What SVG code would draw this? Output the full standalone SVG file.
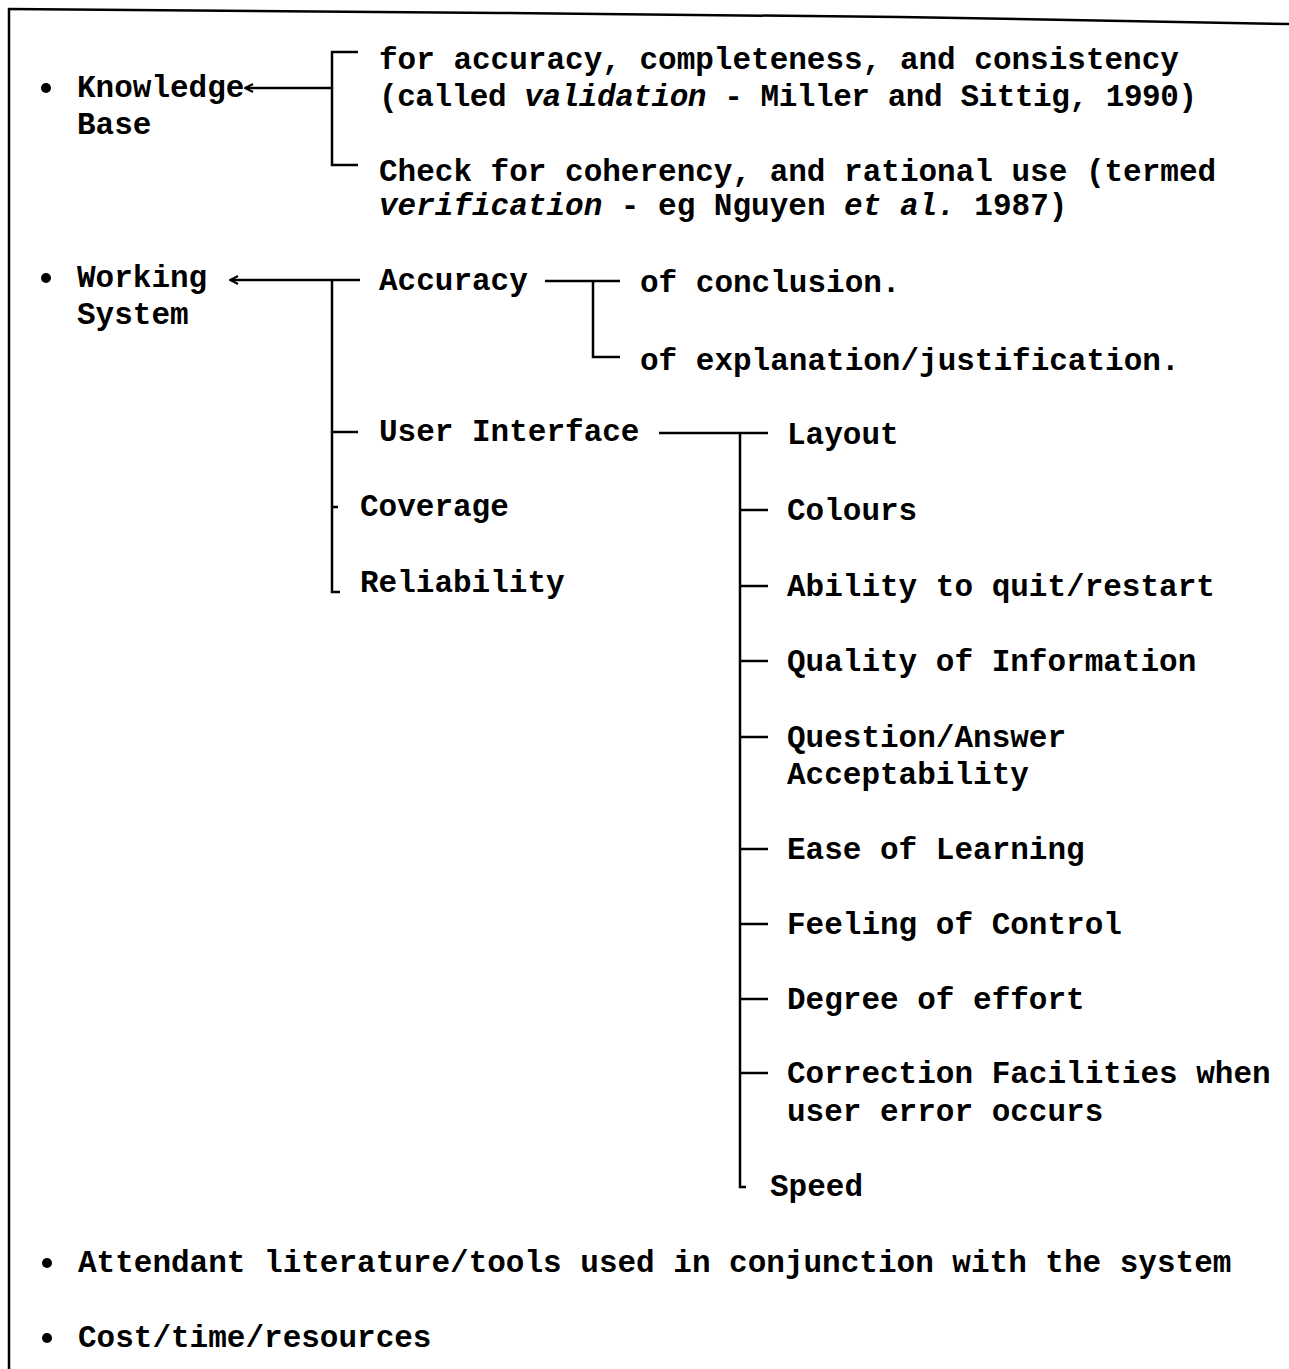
<svg xmlns="http://www.w3.org/2000/svg" width="1289" height="1369" viewBox="0 0 1289 1369">
<style>
  text { font-family: "Liberation Mono", "Courier New", monospace; font-weight: bold; font-size: 31px; fill: #000; }
  .it { font-style: italic; }
  .ln { stroke: #000; stroke-width: 2.5; fill: none; }
  .bul { fill: #000; }
</style>
<defs>
  <marker id="arr" markerUnits="userSpaceOnUse" markerWidth="14" markerHeight="12" refX="13" refY="6" orient="auto" viewBox="0 0 14 12">
    <path d="M5,2 L13,6 L5,10" stroke="#000" stroke-width="2" fill="none"/>
  </marker>
</defs>
<rect width="1289" height="1369" fill="#fff"/>
<g id="frame">
  <polyline class="ln" points="8,9 500,13 900,17 1289,24"/>
  <line class="ln" x1="9" y1="8" x2="9" y2="1369"/>
</g>
<g id="connectors">
  <line class="ln" x1="332" y1="88" x2="245" y2="88" marker-end="url(#arr)"/>
  <polyline class="ln" points="358,52 332,52 332,165 358,165"/>
  <line class="ln" x1="360" y1="280" x2="230" y2="280" marker-end="url(#arr)"/>
  <polyline class="ln" points="332,280 332,592 340,592"/>
  <line class="ln" x1="332" y1="432" x2="358" y2="432"/>
  <line class="ln" x1="332" y1="507" x2="338" y2="507"/>
  <line class="ln" x1="545" y1="281" x2="620" y2="281"/>
  <polyline class="ln" points="593,281 593,357 620,357"/>
  <line class="ln" x1="659" y1="433" x2="768" y2="433"/>
  <polyline class="ln" points="740,433 740,1187 746,1187"/>
  <line class="ln" x1="740" y1="510" x2="768" y2="510"/>
  <line class="ln" x1="740" y1="586" x2="768" y2="586"/>
  <line class="ln" x1="740" y1="661" x2="768" y2="661"/>
  <line class="ln" x1="740" y1="737" x2="768" y2="737"/>
  <line class="ln" x1="740" y1="849" x2="768" y2="849"/>
  <line class="ln" x1="740" y1="924" x2="768" y2="924"/>
  <line class="ln" x1="740" y1="999" x2="768" y2="999"/>
  <line class="ln" x1="740" y1="1073" x2="768" y2="1073"/>
</g>
<g id="n-knowledge">
  <circle class="bul" cx="46" cy="88" r="5"/>
  <text x="77" y="97">Knowledge</text>
  <text x="77" y="134">Base</text>
</g>
<g id="n-validation">
  <text x="379" y="69">for accuracy, completeness, and consistency</text>
  <text x="379" y="106" textLength="818" lengthAdjust="spacing">(called <tspan class="it">validation</tspan> - Miller and Sittig, 1990)</text>
</g>
<g id="n-verification">
  <text x="379" y="181">Check for coherency, and rational use (termed</text>
  <text x="379" y="215"><tspan class="it">verification</tspan> - eg Nguyen <tspan class="it">et al.</tspan> 1987)</text>
</g>
<g id="n-working">
  <circle class="bul" cx="46" cy="278" r="5"/>
  <text x="77" y="287">Working</text>
  <text x="77" y="324">System</text>
</g>
<g id="n-accuracy"><text x="379" y="290">Accuracy</text></g>
<g id="n-conclusion"><text x="640" y="292">of conclusion.</text></g>
<g id="n-explanation"><text x="640" y="370">of explanation/justification.</text></g>
<g id="n-ui"><text x="379" y="441">User Interface</text></g>
<g id="n-coverage"><text x="360" y="516">Coverage</text></g>
<g id="n-reliability"><text x="360" y="592">Reliability</text></g>
<g id="n-layout"><text x="787" y="444">Layout</text></g>
<g id="n-colours"><text x="787" y="520">Colours</text></g>
<g id="n-ability"><text x="787" y="596">Ability to quit/restart</text></g>
<g id="n-quality"><text x="787" y="671">Quality of Information</text></g>
<g id="n-question">
  <text x="787" y="747">Question/Answer</text>
  <text x="787" y="784">Acceptability</text>
</g>
<g id="n-ease"><text x="787" y="859">Ease of Learning</text></g>
<g id="n-feeling"><text x="787" y="934">Feeling of Control</text></g>
<g id="n-degree"><text x="787" y="1009">Degree of effort</text></g>
<g id="n-correction">
  <text x="787" y="1083">Correction Facilities when</text>
  <text x="787" y="1121">user error occurs</text>
</g>
<g id="n-speed"><text x="770" y="1196">Speed</text></g>
<g id="n-attendant">
  <circle class="bul" cx="47" cy="1263" r="5"/>
  <text x="78" y="1272">Attendant literature/tools used in conjunction with the system</text>
</g>
<g id="n-cost">
  <circle class="bul" cx="47" cy="1338" r="5"/>
  <text x="78" y="1347">Cost/time/resources</text>
</g>
</svg>
